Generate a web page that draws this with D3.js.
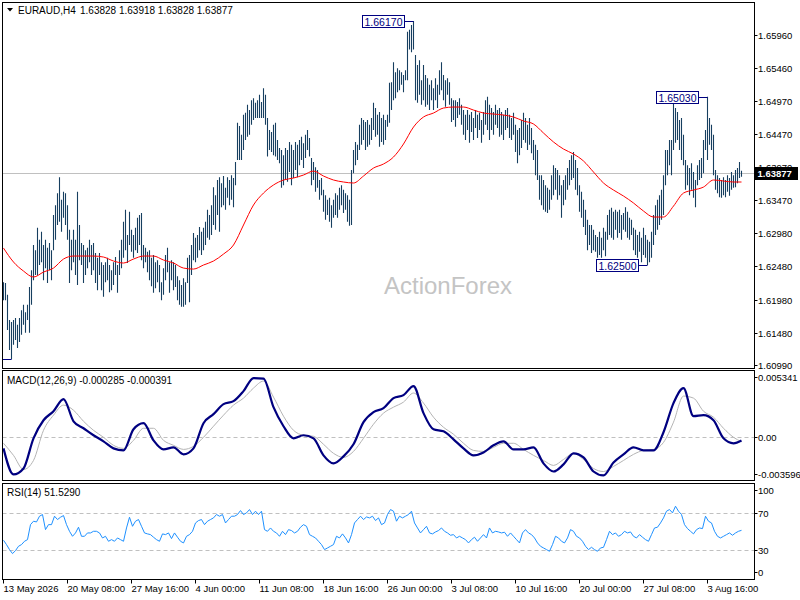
<!DOCTYPE html>
<html><head><meta charset="utf-8">
<script src="https://cdn.jsdelivr.net/npm/d3@7"></script>
<style>body{margin:0;background:#fff}svg{display:block}text{font-family:"Liberation Sans",Arial,sans-serif}</style>
</head><body><svg id="c" width="800" height="600"></svg>
<script>
// ---------------- DATA ----------------
const symbolName = "EURAUD,H4";
const lastOHLC = [1.63828, 1.63918, 1.63828, 1.63877];
const lastPrice = 1.63877;

const barHigh = [
1.6224,1.6223,1.6205,1.6167,1.6164,1.6167,1.6170,1.6160,1.6170,1.6182,
1.6190,1.6179,1.6190,1.6217,1.6242,1.6280,1.6272,1.6306,1.6288,1.6300,
1.6280,1.6288,1.6276,1.6283,1.6272,1.6325,1.6340,1.6358,1.6382,1.6348,
1.6360,1.6358,1.6340,1.6303,1.6288,1.6303,1.6288,1.6360,1.6310,1.6283,
1.6280,1.6272,1.6276,1.6288,1.6280,1.6283,1.6268,1.6261,1.6268,1.6254,
1.6250,1.6254,1.6261,1.6250,1.6242,1.6254,1.6262,1.6250,1.6272,1.6288,
1.6315,1.6333,1.6295,1.6330,1.6303,1.6295,1.6306,1.6321,1.6325,1.6328,
1.6280,1.6276,1.6270,1.6272,1.6261,1.6265,1.6254,1.6257,1.6250,1.6224,
1.6245,1.6265,1.6276,1.6254,1.6257,1.6254,1.6250,1.6233,1.6227,1.6220,
1.6230,1.6224,1.6261,1.6265,1.6280,1.6298,1.6291,1.6295,1.6307,1.6300,
1.6306,1.6315,1.6333,1.6325,1.6340,1.6367,1.6355,1.6378,1.6382,1.6373,
1.6384,1.6366,1.6382,1.6378,1.6385,1.6381,1.6405,1.6464,1.6459,1.6446,
1.6476,1.6479,1.6491,1.6483,1.6498,1.6501,1.6494,1.6498,1.6506,1.6495,
1.6516,1.6506,1.6471,1.6453,1.6450,1.6461,1.6464,1.6438,1.6426,1.6423,
1.6415,1.6426,1.6423,1.6435,1.6431,1.6423,1.6435,1.6431,1.6438,1.6443,
1.6433,1.6446,1.6453,1.6441,1.6411,1.6405,1.6397,1.6393,1.6378,1.6381,
1.6363,1.6355,1.6348,1.6351,1.6340,1.6348,1.6358,1.6355,1.6366,1.6370,
1.6363,1.6358,1.6355,1.6348,1.6393,1.6423,1.6435,1.6431,1.6461,1.6471,
1.6468,1.6465,1.6468,1.6461,1.6471,1.6494,1.6486,1.6476,1.6480,1.6471,
1.6476,1.6468,1.6476,1.6524,1.6525,1.6555,1.6540,1.6546,1.6543,1.6540,
1.6536,1.6543,1.6601,1.6604,1.6611,1.6617,1.6566,1.6551,1.6558,1.6528,
1.6551,1.6536,1.6531,1.6521,1.6528,1.6516,1.6531,1.6521,1.6543,1.6555,
1.6536,1.6528,1.6531,1.6525,1.6501,1.6498,1.6498,1.6495,1.6501,1.6491,
1.6483,1.6476,1.6483,1.6476,1.6480,1.6471,1.6483,1.6476,1.6479,1.6468,
1.6480,1.6498,1.6503,1.6491,1.6486,1.6480,1.6491,1.6483,1.6486,1.6480,
1.6476,1.6483,1.6486,1.6476,1.6471,1.6479,1.6461,1.6453,1.6456,1.6468,
1.6479,1.6471,1.6461,1.6471,1.6456,1.6438,1.6431,1.6423,1.6385,1.6385,
1.6378,1.6370,1.6366,1.6363,1.6385,1.6400,1.6396,1.6393,1.6385,1.6370,
1.6378,1.6385,1.6396,1.6408,1.6415,1.6420,1.6408,1.6396,1.6370,1.6360,
1.6348,1.6333,1.6318,1.6310,1.6310,1.6303,1.6295,1.6292,1.6300,1.6291,
1.6306,1.6300,1.6325,1.6333,1.6336,1.6330,1.6333,1.6330,1.6333,1.6325,
1.6328,1.6337,1.6330,1.6321,1.6318,1.6306,1.6303,1.6295,1.6300,1.6291,
1.6306,1.6295,1.6288,1.6285,1.6300,1.6325,1.6340,1.6348,1.6355,1.6363,
1.6385,1.6423,1.6423,1.6438,1.6438,1.6492,1.6486,1.6480,1.6468,1.6471,
1.6446,1.6408,1.6400,1.6396,1.6403,1.6390,1.6378,1.6400,1.6408,1.6411,
1.6438,1.6453,1.6503,1.6471,1.6461,1.6446,1.6393,1.6385,1.6381,1.6378,
1.6382,1.6378,1.6385,1.6381,1.6390,1.6385,1.6393,1.6396,1.6405,1.63918];

const barLow = [
1.6197,1.6197,1.6152,1.6122,1.6108,1.6130,1.6137,1.6125,1.6134,1.6145,
1.6160,1.6148,1.6167,1.6148,1.6190,1.6227,1.6235,1.6235,1.6250,1.6254,
1.6227,1.6245,1.6223,1.6242,1.6227,1.6272,1.6288,1.6310,1.6315,1.6300,
1.6321,1.6310,1.6288,1.6223,1.6242,1.6254,1.6235,1.6220,1.6257,1.6250,
1.6223,1.6235,1.6245,1.6254,1.6235,1.6242,1.6223,1.6212,1.6235,1.6212,
1.6202,1.6224,1.6227,1.6209,1.6212,1.6220,1.6235,1.6208,1.6235,1.6245,
1.6261,1.6272,1.6253,1.6280,1.6270,1.6261,1.6272,1.6268,1.6280,1.6257,
1.6245,1.6254,1.6239,1.6227,1.6218,1.6208,1.6215,1.6224,1.6209,1.6197,
1.6205,1.6227,1.6239,1.6208,1.6227,1.6212,1.6217,1.6197,1.6190,1.6187,
1.6187,1.6190,1.6223,1.6194,1.6235,1.6257,1.6254,1.6261,1.6272,1.6265,
1.6272,1.6280,1.6291,1.6288,1.6295,1.6310,1.6303,1.6325,1.6300,1.6337,
1.6340,1.6333,1.6351,1.6340,1.6348,1.6337,1.6370,1.6408,1.6408,1.6408,
1.6423,1.6438,1.6443,1.6446,1.6461,1.6468,1.6471,1.6471,1.6471,1.6471,
1.6471,1.6461,1.6413,1.6423,1.6420,1.6415,1.6413,1.6408,1.6403,1.6366,
1.6370,1.6378,1.6375,1.6390,1.6370,1.6381,1.6393,1.6382,1.6400,1.6408,
1.6396,1.6411,1.6423,1.6413,1.6370,1.6378,1.6360,1.6366,1.6348,1.6355,
1.6330,1.6318,1.6325,1.6315,1.6306,1.6321,1.6325,1.6321,1.6333,1.6340,
1.6328,1.6333,1.6315,1.6309,1.6310,1.6388,1.6400,1.6408,1.6423,1.6431,
1.6438,1.6423,1.6428,1.6431,1.6438,1.6453,1.6443,1.6446,1.6428,1.6435,
1.6431,1.6438,1.6458,1.6464,1.6483,1.6498,1.6501,1.6510,1.6513,1.6521,
1.6510,1.6528,1.6528,1.6574,1.6570,1.6574,1.6498,1.6494,1.6506,1.6491,
1.6498,1.6488,1.6491,1.6483,1.6498,1.6483,1.6498,1.6486,1.6506,1.6513,
1.6498,1.6488,1.6506,1.6491,1.6465,1.6468,1.6458,1.6471,1.6476,1.6461,
1.6446,1.6438,1.6453,1.6434,1.6450,1.6438,1.6456,1.6441,1.6453,1.6434,
1.6446,1.6461,1.6453,1.6438,1.6453,1.6446,1.6461,1.6456,1.6443,1.6446,
1.6438,1.6453,1.6456,1.6441,1.6438,1.6446,1.6420,1.6403,1.6415,1.6426,
1.6438,1.6434,1.6423,1.6431,1.6418,1.6408,1.6385,1.6378,1.6348,1.6340,
1.6333,1.6330,1.6328,1.6333,1.6348,1.6355,1.6363,1.6348,1.6355,1.6321,
1.6340,1.6348,1.6363,1.6370,1.6378,1.6381,1.6363,1.6355,1.6330,1.6321,
1.6307,1.6295,1.6272,1.6280,1.6268,1.6272,1.6270,1.6261,1.6265,1.6261,
1.6272,1.6263,1.6288,1.6295,1.6291,1.6288,1.6303,1.6291,1.6298,1.6288,
1.6303,1.6300,1.6291,1.6288,1.6295,1.6272,1.6265,1.6261,1.6270,1.6254,
1.6265,1.6261,1.6250,1.6254,1.6261,1.6280,1.6295,1.6303,1.6310,1.6318,
1.6325,1.6370,1.6385,1.6400,1.6385,1.6423,1.6434,1.6438,1.6423,1.6408,
1.6400,1.6363,1.6370,1.6355,1.6363,1.6351,1.6337,1.6370,1.6378,1.6381,
1.6388,1.6423,1.6408,1.6431,1.6423,1.6385,1.6363,1.6358,1.6352,1.6351,
1.6355,1.6352,1.6360,1.6354,1.6363,1.6366,1.6367,1.6373,1.6381,1.63828];

// moving average, read every 5 bars (last point = last bar)
const maValues = [
1.62754,1.62544,1.62408,1.62318,1.62393,1.62453,1.62589,1.62634,1.62634,1.62634,
1.62619,1.62559,1.62529,1.62589,1.62634,1.62634,1.62574,1.62529,1.62453,1.62438,
1.62499,1.62559,1.62664,1.62800,1.63101,1.63402,1.63582,1.63703,1.63778,1.63808,
1.63853,1.63913,1.63838,1.63778,1.63748,1.63733,1.63838,1.63958,1.64019,1.64124,
1.64320,1.64575,1.64726,1.64786,1.64861,1.64876,1.64876,1.64831,1.64786,1.64771,
1.64756,1.64726,1.64666,1.64621,1.64485,1.64350,1.64244,1.64169,1.64064,1.63898,
1.63733,1.63627,1.63537,1.63432,1.63311,1.63221,1.63221,1.63386,1.63582,1.63627,
1.63672,1.63778,1.63763,1.63748,1.63748];

// MACD main & signal, read every 5 bars (last point = last bar)
const macdValues = [
-0.00098,-0.00329,-0.00276,-0.00009,0.00151,0.00231,0.00338,0.00142,0.00080,0.00018,
-0.00036,-0.00098,-0.00116,0.00071,0.00125,-0.00027,-0.00107,-0.00089,-0.00151,-0.00098,
0.00125,0.00205,0.00294,0.00320,0.00409,0.00525,0.00520,0.00267,0.00098,-0.00009,
0.00018,-0.00009,-0.00160,-0.00231,-0.00169,-0.00062,0.00134,0.00223,0.00258,0.00347,
0.00374,0.00454,0.00214,0.00071,0.00053,-0.00018,-0.00098,-0.00160,-0.00134,-0.00071,
-0.00036,-0.00107,-0.00107,-0.00089,-0.00231,-0.00303,-0.00240,-0.00142,-0.00178,-0.00303,
-0.00338,-0.00223,-0.00151,-0.00089,-0.00116,-0.00116,0.00045,0.00303,0.00436,0.00187,
0.00196,0.00151,-0.00009,-0.00053,-0.000285];
const signalValues = [
-0.00053,-0.00160,-0.00285,-0.00205,0.00062,0.00196,0.00285,0.00240,0.00142,0.00062,
0.00000,-0.00071,-0.00098,-0.00027,0.00080,0.00080,-0.00027,-0.00071,-0.00107,-0.00080,
0.00000,0.00098,0.00196,0.00285,0.00347,0.00436,0.00498,0.00356,0.00187,0.00062,
0.00018,0.00009,-0.00062,-0.00142,-0.00178,-0.00125,-0.00009,0.00116,0.00214,0.00267,
0.00312,0.00392,0.00303,0.00178,0.00089,0.00027,-0.00053,-0.00116,-0.00125,-0.00089,
-0.00053,-0.00053,-0.00107,-0.00160,-0.00205,-0.00249,-0.00196,-0.00142,-0.00196,-0.00276,
-0.00303,-0.00258,-0.00205,-0.00151,-0.00116,-0.00107,-0.00045,0.00134,0.00365,0.00347,
0.00231,0.00178,0.00080,0.00000,-0.000391];

// RSI(14), read every 1.5 bars
const rsiValues = [
40.8,36.1,30.7,26.4,29.6,34.3,36.1,39.7,41.5,57.7,
61.4,60.6,66.8,68.6,52.3,57.7,57.7,66.8,63.2,65.7,
67.5,57.7,50.5,45.1,48.7,54.9,45.1,45.1,48.7,48.7,
50.5,50.5,48.7,43.3,45.1,39.7,41.5,39.7,43.3,41.5,
39.7,54.1,65.7,55.9,61.4,63.2,55.9,48.7,47.7,46.9,
44.1,41.5,39.7,47.7,46.9,48.7,42.6,48.7,44.1,39.7,
37.9,45.1,46.9,50.5,59.5,62.1,63.2,57.7,61.4,63.2,
65.0,68.6,66.8,68.6,59.5,63.2,66.8,66.8,68.6,72.9,
68.6,70.4,74.0,68.6,72.2,68.6,72.2,52.3,50.5,54.1,
50.5,48.7,45.1,50.5,46.9,52.3,51.3,48.7,50.5,54.9,
57.7,55.9,46.9,45.1,43.3,39.7,36.1,30.7,32.5,34.3,
36.1,45.1,43.3,47.7,43.3,37.9,46.9,59.5,63.2,66.8,
63.2,66.0,65.0,66.8,62.1,65.0,57.7,59.5,68.6,74.0,
72.2,61.4,66.8,
65.0,66.8,68.6,72.2,59.5,54.1,48.7,52.3,55.9,48.7,
47.7,49.8,51.3,54.1,50.5,48.7,46.2,46.9,43.3,45.1,
43.3,41.5,37.9,41.5,44.1,39.7,43.3,46.9,43.3,54.1,
48.7,50.5,49.8,48.7,49.5,45.1,48.7,45.1,41.5,37.9,
48.7,52.3,48.7,46.9,43.3,37.9,34.3,32.5,30.7,28.9,
36.1,45.1,43.3,39.7,37.9,43.3,52.3,50.5,45.1,43.3,
39.7,34.3,30.7,33.2,30.7,28.9,32.5,33.2,41.5,50.5,
46.9,48.7,45.1,46.9,50.5,48.7,49.8,45.1,43.3,46.9,
44.1,41.5,39.7,46.9,54.1,54.9,59.5,65.0,72.2,74.0,
70.4,77.6,72.2,68.6,57.7,53.4,50.5,47.7,52.3,54.1,
53.4,66.8,61.4,59.5,50.5,45.1,43.3,45.1,46.9,48.7,
46.2,48.7,50.5,51.529];
const rsiLast = 51.5290;
const macdLast = [-0.000285, -0.000391];

const priceTicks = [1.65960,1.65460,1.64970,1.64470,1.63970,1.63470,1.62980,1.62480,1.61980,1.61480,1.60990];
const macdTicks = [0.005341, 0.00, -0.003596];
const rsiTicks = [100, 70, 30, 0];
const rsiLevels = [70, 30];
const timeLabels = ["13 May 2026","20 May 08:00","27 May 16:00","4 Jun 00:00","11 Jun 08:00","18 Jun 16:00",
  "26 Jun 00:00","3 Jul 08:00","10 Jul 16:00","20 Jul 00:00","27 Jul 08:00","3 Aug 16:00"];
const timeTickBars = [0,32,64,96,128,160,192,224,256,288,320,352];
const markBars = [205, 352, 322, 4];
const markPrices = [1.66170, 1.65030, 1.62500, 1.6108];

// ---------------- DRAW ----------------
const svg = d3.select("#c");
const FONT = '"Liberation Sans",Arial,sans-serif';
const Lx = 2.5, Rx = 754.5;
const P = {main:[2.5,368.5], macd:[370.5,480.5], rsi:[483.5,579.5]};
const nBars = barHigh.length;

const x = d3.scaleLinear().domain([0, nBars-1]).range([3.5, 3.5 + 2*(nBars-1)]);
const y = d3.scaleLinear().domain([1.60990, 1.65960]).range([365.3, 35]);
const ym = d3.scaleLinear().domain([0, 0.005341]).range([437.3, 377]);
const yr = d3.scaleLinear().domain([0, 100]).range([578, 485.5]);

svg.append("rect").attr("width",800).attr("height",600).attr("fill","#fff");
const defs = svg.append("defs");
Object.entries(P).forEach(([k,[t,b]])=>{
  defs.append("clipPath").attr("id","clip-"+k).append("rect")
    .attr("x",Lx).attr("y",t).attr("width",Rx-Lx).attr("height",b-t);
});

// watermark
svg.append("text").attr("x",384).attr("y",294).attr("font-size",24).attr("fill","#c4c4c4")
  .style("font-family",FONT).text("ActionForex");

const gMain = svg.append("g").attr("clip-path","url(#clip-main)");

// current price line
gMain.append("line").attr("x1",Lx).attr("x2",Rx).attr("y1",Math.round(y(lastPrice))+0.5).attr("y2",Math.round(y(lastPrice))+0.5)
  .attr("stroke","#c0c0c0").attr("stroke-width",1);

// bars
let bp = "";
for (let i=0;i<nBars;i++){
  const xx = x(i);
  bp += `M${xx},${y(barHigh[i])}V${y(barLow[i])}`;
}
gMain.append("path").attr("d",bp).attr("stroke","#173f60").attr("stroke-width",1.1).attr("fill","none");

// moving average
const maIdx = d3.range(0, nBars, 5).concat([nBars-1]).slice(0, maValues.length);
gMain.append("path").datum(maValues.map((v,k)=>[maIdx[k],v]))
  .attr("d", d3.line().x(d=>x(d[0])).y(d=>y(d[1])).curve(d3.curveMonotoneX))
  .attr("fill","none").attr("stroke","#ff0000").attr("stroke-width",1);

// high/low marks (a box whose label falls left of the plot shows only its connector)
markBars.forEach((b,k)=>{
  const px = x(b), py = Math.round(y(markPrices[k]))+0.5;
  const label = markPrices[k].toFixed(5);
  const bw = 42, bh = 12;
  const bx = Math.round(px) - 10 - bw;
  gMain.append("line").attr("x1",Math.max(bx+bw, Lx)).attr("x2",px).attr("y1",py).attr("y2",py)
    .attr("stroke","#000080").attr("stroke-width",1);
  if (bx < Lx) return;
  gMain.append("rect").attr("x",bx+0.5).attr("y",py-bh/2).attr("width",bw).attr("height",bh)
    .attr("fill","#fff").attr("stroke","#000080").attr("stroke-width",1);
  gMain.append("text").attr("x",bx+bw/2+0.5).attr("y",py+4).attr("text-anchor","middle")
    .attr("font-size",10.5).attr("fill","#000080").style("font-family",FONT).text(label);
});

// MACD panel
const gM = svg.append("g").attr("clip-path","url(#clip-macd)");
gM.append("line").attr("x1",Lx).attr("x2",Rx).attr("y1",Math.round(ym(0))+0.5).attr("y2",Math.round(ym(0))+0.5)
  .attr("stroke","#c0c0c0").attr("stroke-dasharray","4,3");
const mIdx = d3.range(0, nBars, 5).concat([nBars-1]);
gM.append("path").datum(signalValues.map((v,k)=>[mIdx[k],v]))
  .attr("d", d3.line().x(d=>x(d[0])).y(d=>ym(d[1])).curve(d3.curveMonotoneX))
  .attr("fill","none").attr("stroke","#b4b4b4").attr("stroke-width",1);
gM.append("path").datum(macdValues.map((v,k)=>[mIdx[k],v]))
  .attr("d", d3.line().x(d=>x(d[0])).y(d=>ym(d[1])).curve(d3.curveMonotoneX))
  .attr("fill","none").attr("stroke","#000080").attr("stroke-width",2.2);

// RSI panel
const gR = svg.append("g").attr("clip-path","url(#clip-rsi)");
rsiLevels.forEach(v=>{
  gR.append("line").attr("x1",Lx).attr("x2",Rx).attr("y1",Math.round(yr(v))+0.5).attr("y2",Math.round(yr(v))+0.5)
    .attr("stroke","#c0c0c0").attr("stroke-dasharray","4,3");
});
gR.append("path").datum(rsiValues.map((v,k)=>[Math.min(k*1.5, nBars-1), v]))
  .attr("d", d3.line().x(d=>x(d[0])).y(d=>yr(d[1])))
  .attr("fill","none").attr("stroke","#1e90ff").attr("stroke-width",1);

// panel frames
Object.values(P).forEach(([t,b])=>{
  svg.append("rect").attr("x",Lx).attr("y",t).attr("width",Rx-Lx).attr("height",b-t)
    .attr("fill","none").attr("stroke","#000").attr("stroke-width",1);
});

// right axes
const axisText = (yy, txt) => svg.append("text").attr("x",758).attr("y",yy+3.5)
  .attr("font-size",9.5).attr("fill","#000").style("font-family",FONT).text(txt);
priceTicks.forEach(v=>{
  const yy = Math.round(y(v))+0.5;
  svg.append("line").attr("x1",Rx).attr("x2",Rx+3).attr("y1",yy).attr("y2",yy).attr("stroke","#000");
  axisText(yy, v.toFixed(5));
});
// current price label (covers part of the neighbouring tick label, as in the terminal)
{
  const yy = Math.round(y(lastPrice))+0.5;
  svg.append("rect").attr("x",755).attr("y",yy-6.5).attr("width",43).attr("height",13).attr("fill","#000");
  svg.append("text").attr("x",757.5).attr("y",yy+3.5).attr("font-size",9.5).attr("fill","#fff")
    .attr("font-weight","bold").style("font-family",FONT).text(lastPrice.toFixed(5));
}
macdTicks.forEach(v=>{
  let yy = Math.round(ym(v))+0.5;
  yy = Math.max(P.macd[0]+6.5, Math.min(P.macd[1]-6, yy));
  svg.append("line").attr("x1",Rx).attr("x2",Rx+3).attr("y1",yy).attr("y2",yy).attr("stroke","#000");
  axisText(yy, v === 0 ? "0.00" : String(v));
});
rsiTicks.forEach(v=>{
  let yy = Math.round(yr(v))+0.5;
  yy = Math.max(P.rsi[0]+7, Math.min(P.rsi[1]-7, yy));
  svg.append("line").attr("x1",Rx).attr("x2",Rx+3).attr("y1",yy).attr("y2",yy).attr("stroke","#000");
  axisText(yy, String(v));
});

// time axis
timeTickBars.forEach((b,k)=>{
  const xx = Math.round(x(b))-0.5;
  svg.append("line").attr("x1",xx).attr("x2",xx).attr("y1",P.rsi[1]).attr("y2",P.rsi[1]+4).attr("stroke","#000");
  svg.append("text").attr("x",xx).attr("y",592).attr("font-size",9.5).attr("fill","#000")
    .style("font-family",FONT).text(timeLabels[k]);
});

// titles
svg.append("path").attr("d","M7,8 L13,8 L10,11.5 Z").attr("fill","#000");
svg.append("text").attr("x",18).attr("y",14).attr("font-size",10).attr("fill","#000").style("font-family",FONT)
  .text(symbolName);
svg.append("text").attr("x",80).attr("y",14).attr("font-size",10).attr("fill","#000").style("font-family",FONT)
  .text(lastOHLC.map(v=>v.toFixed(5)).join(" "));
svg.append("text").attr("x",7).attr("y",384).attr("font-size",10).attr("fill","#000").style("font-family",FONT)
  .text(`MACD(12,26,9) ${macdLast[0].toFixed(6)} ${macdLast[1].toFixed(6)}`);
svg.append("text").attr("x",7).attr("y",496).attr("font-size",10).attr("fill","#000").style("font-family",FONT)
  .text(`RSI(14) ${rsiLast.toFixed(4)}`);
</script></body></html>
